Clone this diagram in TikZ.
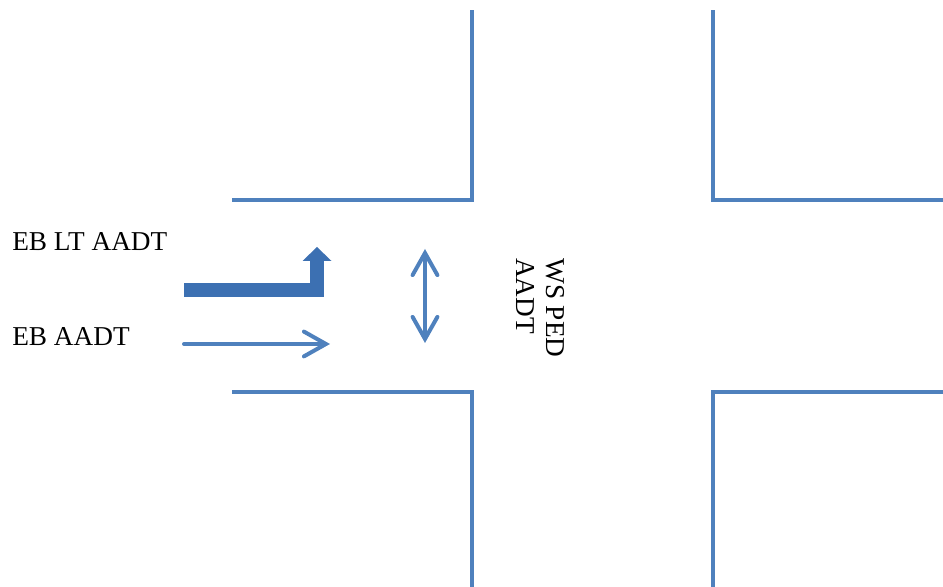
\documentclass[tikz,border=0pt]{standalone}
\usepackage{fontspec}
\setmainfont{Liberation Serif}
\usetikzlibrary{arrows.meta}
\usetikzlibrary{positioning}
\definecolor{roadblue}{RGB}{79,129,189}
\definecolor{turnblue}{RGB}{60,112,178}
\newcommand{\roadcorner}[1]{\draw[roadblue, line width = 1mm, line join = miter] (-6,0) -- (0,0) -- (0,#1);}
\tikzset{flowtext/.style={font=\fontsize{19.4}{21.3}\selectfont, inner sep=0pt},
	flowarrow/.style={roadblue, line width = 1mm, line cap = round},
	flowhead/.tip={Straight Barb[length=5.5mm, width=6.2mm, line cap=round]}}

\begin{document}
\begin{tikzpicture}
				\useasboundingbox (0,0) rectangle (23.575,14.675);
				
					\begin{scope}[xshift = 11.8cm, yshift = 9.675cm]
						\roadcorner{4.75}
					\end{scope}
					
					\begin{scope}[xshift = 17.825cm, yshift = 9.675cm, xscale = -1]
						\roadcorner{4.75}
					\end{scope}
					
					\begin{scope}[xshift = 11.8cm, yshift = 4.875cm, yscale = -1]
						\roadcorner{5}
					\end{scope}
					
					\begin{scope}[xshift = 17.825cm, yshift = 4.875cm, xscale = -1, yscale = -1]
						\roadcorner{5}
					\end{scope}
					
					\coordinate (lt start) at (4.6,7.425);
					\coordinate (lt bend) at (7.925,7.425);
					\coordinate (lt end) at (7.925,8.5);
					\coordinate (eb start) at (4.6,6.075);
					\coordinate (eb end) at (8.25,6.075);
					\coordinate (ped top) at (10.625,8.45);
					\coordinate (ped bottom) at (10.625,6.1);
					
					\draw[turnblue, line width = 3.5mm, line join = miter, -{Triangle[width=7.25mm, length=3.5mm, line width=0pt]}] (lt start) -- (lt bend) -- (lt end);
					\draw[flowarrow, -flowhead] (eb start) -- (eb end);
					\draw[flowarrow, flowhead-flowhead] (ped bottom) -- (ped top);
					
					\node[flowtext, anchor = west] (eb lt) at (0.3,8.64) {EB LT AADT};
					\node[flowtext, anchor = west] (eb) at (0.3,6.25) {EB AADT};
					\node[flowtext, anchor = north west, rotate = -90, align = left] (ws ped) at (14.125,8.225) {WS PED\\AADT};
										
				\end{tikzpicture}
\end{document}
